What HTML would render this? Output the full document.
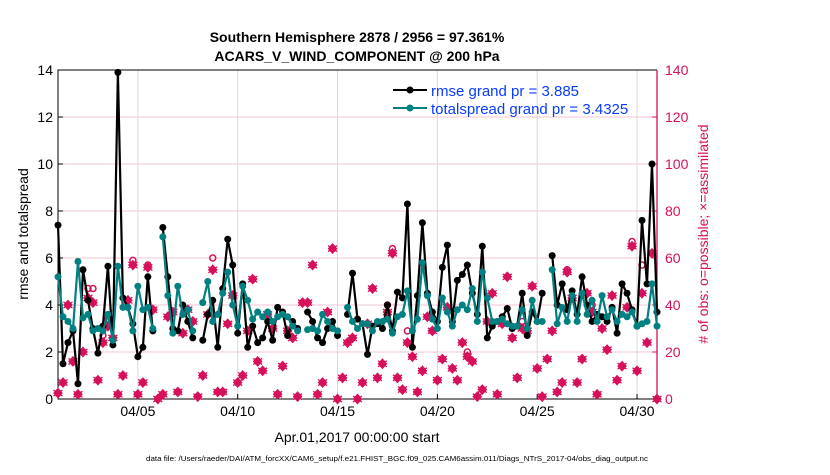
<!DOCTYPE html>
<html><head><meta charset="utf-8"><style>
body{margin:0;background:#fff;width:830px;height:470px;overflow:hidden;font-family:"Liberation Sans",sans-serif}
svg text{font-family:"Liberation Sans",sans-serif}
</style></head><body>
<svg id="chart" width="830" height="470" viewBox="0 0 830 470" xmlns="http://www.w3.org/2000/svg">
<text x="357" y="42" text-anchor="middle" font-size="14" font-weight="bold">Southern Hemisphere 2878 / 2956 = 97.361%</text>
<text x="357" y="61" text-anchor="middle" font-size="14" font-weight="bold">ACARS_V_WIND_COMPONENT @ 200 hPa</text>
<g id="grid"></g>
<g id="axes"></g>
<g id="obs"></g>
<g id="lines"></g>
<g>
<g>
<line x1="393" y1="90" x2="427" y2="90" stroke="#000" stroke-width="2"/><circle cx="410" cy="90" r="3.5" fill="#000"/>
<text x="431" y="96" font-size="15" fill="#0a3cff">rmse grand pr = 3.885</text></g>
<g>
<line x1="393" y1="108" x2="427" y2="108" stroke="#008080" stroke-width="2"/><circle cx="410" cy="108" r="3.5" fill="#008080"/>
<text x="431" y="114" font-size="15" fill="#0a3cff">totalspread grand pr = 3.4325</text></g>
</g>
<text transform="translate(28,234) rotate(-90)" text-anchor="middle" font-size="14">rmse and totalspread</text>
<text transform="translate(708,234) rotate(-90)" text-anchor="middle" font-size="14" fill="#d6105a"># of obs: o=possible; ×=assimilated</text>
<text x="357" y="442" text-anchor="middle" font-size="14">Apr.01,2017 00:00:00 start</text>
<text x="397" y="461" text-anchor="middle" font-size="7.5" textLength="502" lengthAdjust="spacingAndGlyphs">data file: /Users/raeder/DAI/ATM_forcXX/CAM6_setup/f.e21.FHIST_BGC.f09_025.CAM6assim.011/Diags_NTrS_2017-04/obs_diag_output.nc</text>
</svg>
<script>
const rmse=[7.4,1.5,2.4,2.9,0.65,5.5,4.2,3.0,1.95,3.1,5.65,2.3,13.9,4.3,3.9,3.2,1.8,2.2,5.2,2.9,null,7.3,5.2,3.0,2.9,4.0,3.3,2.6,null,2.5,3.6,4.2,2.2,4.7,6.8,5.7,2.8,4.9,2.2,3.1,2.4,2.6,3.3,2.5,3.9,3.7,2.7,3.3,3.0,null,3.7,3.3,2.6,2.4,3.0,3.3,2.7,null,3.6,5.35,3.4,3.2,1.9,3.1,3.2,3.0,4.0,2.9,4.55,4.3,8.3,2.2,4.4,7.5,4.5,3.7,3.3,5.6,6.55,3.3,5.05,5.3,5.7,4.5,3.6,6.5,2.6,3.1,3.3,3.5,3.85,3.0,3.1,4.5,2.7,3.7,3.3,4.5,null,6.1,4.0,4.9,3.8,4.6,3.6,5.2,4.0,3.3,3.6,3.5,3.3,3.9,2.8,4.9,4.5,3.8,3.1,7.6,4.9,10.0,3.7];
const spread=[5.2,3.5,3.3,3.0,5.85,3.45,3.6,2.9,3.0,2.9,3.6,2.5,5.65,3.9,3.9,2.9,4.8,3.8,3.9,3.0,null,6.9,4.4,2.8,4.8,3.6,3.8,2.9,null,4.1,5.0,3.3,3.6,4.5,5.4,4.0,3.1,4.8,4.2,3.4,3.7,3.5,3.7,3.3,3.5,3.6,3.5,3.1,2.9,null,2.95,3.0,2.9,3.6,3.3,3.0,2.9,null,3.9,3.3,3.0,3.2,3.2,2.9,3.3,3.3,3.4,2.8,3.5,3.6,4.6,2.9,3.4,5.8,4.4,3.4,3.0,4.3,3.7,3.1,3.8,4.0,3.8,4.7,3.3,5.4,4.3,3.3,3.3,3.4,3.2,3.1,3.1,3.8,3.0,4.2,3.3,3.3,null,5.5,3.2,3.9,3.3,4.4,3.3,4.5,3.6,4.2,3.3,4.4,3.5,3.8,3.3,3.6,3.5,3.7,3.1,3.2,3.3,4.9,3.1];
const assimilated=[2.5,7,40,16,2,20,43,41,8,24,31,26,2,10,42,57,2,7,56,38,0,2,35,37,3,28,38,33,1,10,36,55,3,3,32,44,7,10,29,51,16,12,36,30,2,14,29,26,1,41,41,57,2,7,37,64,0,9,24,26,0,7,32,47,9,15,37,62,9,4,24,18,3,12,35,29,8,17,39,13,8,24,18,16,1,4,33,45,2,32,52,26,9,30,29,48,13,1,17,29,3,7,54,43,7,17,45,37,2,30,21,44,8,14,39,65,12,45,24,62,0];
const possible=[2.5,7,40,16,2,20,47,47,8,27,34,26,2,10,42,59,2,7,57,38,0,2,35,37,3,28,38,33,1,10,36,60,3,3,32,44,7,10,29,51,16,12,36,30,2,14,29,26,1,41,41,57,2,7,37,64,0,9,24,26,0,7,32,47,9,15,40,64,9,4,29,18,3,12,35,29,8,17,39,13,8,24,20,16,1,4,33,45,2,32,52,26,9,33,29,48,13,1,17,29,3,7,55,43,7,17,45,40,2,30,21,44,8,14,39,67,12,57,24,62,0];
const leftTicks=[0,2,4,6,8,10,12,14];
const rightTicks=[0,20,40,60,80,100,120,140];
const dateTicks=["04/05","04/10","04/15","04/20","04/25","04/30"];
const dateTickDays=[5,10,15,20,25,30];

const NS="http://www.w3.org/2000/svg";
const X0=58,X1=657,Y0=399,Y1=70;
const xDay=d=>X0+(d-1)*(X1-X0)/30;
const xIdx=i=>xDay(1+i/4);
const yL=v=>Y0-v*(Y0-Y1)/14;
const yR=v=>Y0-v*(Y0-Y1)/140;
function mk(tag,attrs,parent){const e=document.createElementNS(NS,tag);for(const k in attrs)e.setAttribute(k,attrs[k]);parent.appendChild(e);return e;}
const grid=document.getElementById('grid'),axes=document.getElementById('axes');
leftTicks.forEach((t,i)=>{
  if(t>0&&t<14){const g=mk('line',{x1:X0,x2:X1,y1:yL(t),y2:yL(t),stroke:'#f3c6d6','stroke-width':1},grid);
  
  }
  mk('line',{x1:X0,x2:X0+5,y1:yL(t),y2:yL(t),stroke:'#000'},axes);
  const tx=mk('text',{x:X0-5,y:yL(t)+5,'text-anchor':'end','font-size':14},axes);tx.textContent=t;
  
  
});
rightTicks.forEach(t=>{
  mk('line',{x1:X1-5,x2:X1,y1:yR(t),y2:yR(t),stroke:'#d6105a'},axes);
  const tx=mk('text',{x:X1+8,y:yR(t)+5,'font-size':14,fill:'#d6105a'},axes);tx.textContent=t;
  
  
});
dateTicks.forEach((lab,i)=>{
  const x=xDay(dateTickDays[i]);
  const g=mk('line',{x1:x,x2:x,y1:Y1,y2:Y0,stroke:'#d9d9d9'},grid);
  
  
  mk('line',{x1:x,x2:x,y1:Y0,y2:Y0-5,stroke:'#000'},axes);
  const tx=mk('text',{x:x,y:416,'text-anchor':'middle','font-size':14},axes);tx.textContent=lab;
  
  
});
mk('path',{d:`M${X1} ${Y1} H${X0} V${Y0} H${X1}`,fill:'none',stroke:'#000','stroke-width':1},axes);
mk('line',{x1:X1,x2:X1,y1:Y1,y2:Y0,stroke:'#d6105a','stroke-width':1.3},axes);

const obs=document.getElementById('obs');
possible.forEach((v,i)=>{
  const c=mk('circle',{cx:xIdx(i),cy:yR(v),r:3,fill:'none',stroke:'#d6105a','stroke-width':1.5},obs);
  
  
});
assimilated.forEach((v,i)=>{
  const x=xIdx(i),y=yR(v);
  const p=mk('path',{d:`M${x} ${y-4.5} L${x+4} ${y} L${x} ${y+4.5} L${x-4} ${y} Z M${x-4.5} ${y-3} L${x+4.5} ${y+3} M${x-4.5} ${y+3} L${x+4.5} ${y-3}`,fill:'#d6105a',stroke:'#d6105a','stroke-width':1.3},obs);
  
  
});
const lines=document.getElementById('lines');
function series(arr,color,name){
  let d='',pen=false;
  arr.forEach((v,i)=>{if(v==null){pen=false;return;}d+=(pen?'L':'M')+xIdx(i).toFixed(1)+' '+yL(v).toFixed(1)+' ';pen=true;});
  const p=mk('path',{d:d,fill:'none',stroke:color,'stroke-width':2.2,'stroke-linejoin':'round'},lines);
  
  
  arr.forEach((v,i)=>{if(v==null)return;
    const c=mk('circle',{cx:xIdx(i),cy:yL(v),r:3.5,fill:color},lines);
    
    
  });
}
series(rmse,'#000','rmse');
series(spread,'#008080','totalspread');
</script>
</body></html>
